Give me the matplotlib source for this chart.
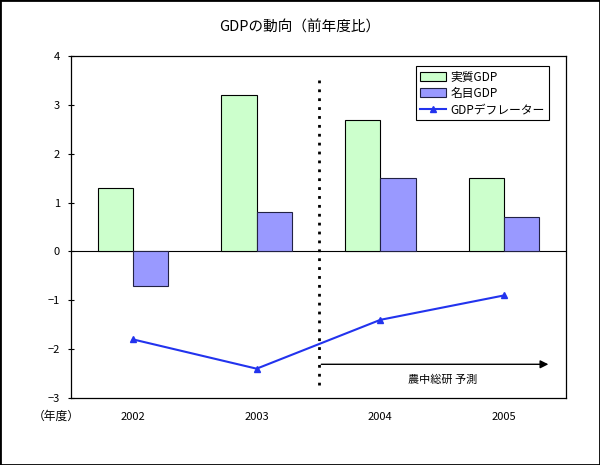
import matplotlib
matplotlib.use("Agg")
import matplotlib.pyplot as plt
import numpy as np
from matplotlib.patches import Rectangle

plt.rcParams['font.family'] = ['Noto Sans CJK JP', 'DejaVu Sans']

years = ['2002', '2003', '2004', '2005']
real_gdp = [1.3, 3.2, 2.7, 1.5]
nominal_gdp = [-0.7, 0.8, 1.5, 0.7]
deflator = [-1.8, -2.4, -1.4, -0.9]

fig = plt.figure(figsize=(6.0, 4.65), dpi=100)
ax = fig.add_axes([71/600, 1-398/465, (566-71)/600, (398-56)/465])

x = np.arange(len(years))
w = 0.285
b1 = ax.bar(x - w/2, real_gdp, w, color='#CCFFCC', edgecolor='black', linewidth=0.8, label='実質GDP', zorder=2)
b2 = ax.bar(x + w/2, nominal_gdp, w, color='#9999FF', edgecolor='#222244', linewidth=0.8, label='名目GDP', zorder=2)
l1, = ax.plot(x, deflator, color='#2233EE', marker='^', markersize=4, linewidth=1.5, label='GDPデフレーター', zorder=3)

ax.axhline(0, color='black', linewidth=0.8, zorder=1)
ax.set_xlim(-0.5, 3.5)
ax.set_ylim(-3, 4)
ax.set_yticks(range(-3, 5))
ax.set_yticklabels(['−3', '−2', '−1', '0', '1', '2', '3', '4'])
ax.set_xticks(x)
ax.set_xticklabels(years)
ax.tick_params(axis='x', length=0, pad=10, labelsize=8)
ax.tick_params(axis='y', direction='inout', length=4, labelsize=8, pad=6)
for s in ax.spines.values():
    s.set_linewidth(0.9)

# forecast divider
ax.plot([1.5, 1.5], [-2.74, 3.5], color='black', linestyle=(0, (1, 2.2)), linewidth=2, zorder=4)
ax.annotate('', xy=(3.38, -2.31), xytext=(1.5, -2.31),
            arrowprops=dict(arrowstyle='-|>', color='black', lw=1.0, mutation_scale=12))
ax.text(2.5, -2.62, '農中総研 予測', ha='center', va='center', fontsize=8)

leg = ax.legend([b1, b2, l1], ['実質GDP', '名目GDP', 'GDPデフレーター'],
                loc='upper left', bbox_to_anchor=((416-71)/495, (398-66)/342), fontsize=8.5,
                frameon=True, fancybox=False, edgecolor='black', framealpha=1,
                handlelength=2.2, handleheight=0.8, handletextpad=0.4, borderpad=0.35,
                labelspacing=0.3, borderaxespad=0)
leg.get_frame().set_linewidth(0.8)

fig.text(0.5, 1-27/465, 'GDPの動向（前年度比）', ha='center', va='center', fontsize=10.5)
fig.text(56/600, 1-416/465, '（年度）', ha='center', va='center', fontsize=8.5)

fig.patches.append(Rectangle((0, 0), 1, 1, transform=fig.transFigure, fill=False,
                             edgecolor='black', linewidth=2))

fig.savefig('out.png', dpi=100)
